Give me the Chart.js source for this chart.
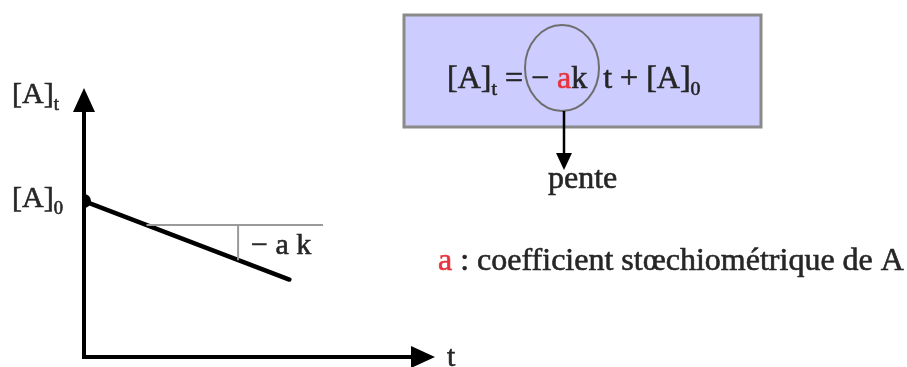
<!DOCTYPE html>
<html>
<head>
<meta charset="utf-8">
<script src="https://cdn.jsdelivr.net/npm/chart.js@4.4.1/dist/chart.umd.min.js"></script>
<style>
    html, body { margin: 0; padding: 0; background: #fff; }
    #wrap { width: 907px; height: 367px; position: relative; }
</style>
</head>
<body>
<div id="wrap"><canvas id="kinetics"></canvas></div>
<script>
// [A] = f(t) for a zero-order reaction, axes run 0..10 in both directions
const lineT = [0, 5.85];
const lineA = [5.8, 2.88];

// slope triangle: horizontal step and vertical drop back to the line
const stepT = [1.78, 6.81];
const stepA = [4.91, 4.91];
const riseT = [4.39, 4.39];
const riseA = [4.91, 3.6];

const SERIF = '"Liberation Serif", "Times New Roman", serif';
const INK = '#262626';
const RED = '#e8323c';

const pts = (xs, ys) => xs.map((x, i) => ({ x: x, y: ys[i] }));

// draws runs like [A]t with a smaller subscript, returns the end x
const rich = (ctx, parts, x, y, size) => {
    parts.forEach(p => {
        const s = p.sub ? size * 0.62 : size;
        const ty = p.sub ? y + size * 0.22 : y;
        ctx.font = s + 'px ' + SERIF;
        ctx.fillStyle = p.color || INK;
        ctx.strokeStyle = p.color || INK;
        ctx.lineWidth = 0.6;
        ctx.fillText(p.text, x, ty);
        ctx.strokeText(p.text, x, ty);
        x += ctx.measureText(p.text).width;
    });
    return x;
};

const arrowHead = (ctx, x, y, dir, len, half) => {
    ctx.beginPath();
    if (dir === 'up') {
        ctx.moveTo(x, y); ctx.lineTo(x - half, y + len); ctx.lineTo(x + half, y + len);
    } else if (dir === 'down') {
        ctx.moveTo(x, y); ctx.lineTo(x - half, y - len); ctx.lineTo(x + half, y - len);
    } else {
        ctx.moveTo(x, y); ctx.lineTo(x - len, y - half); ctx.lineTo(x - len, y + half);
    }
    ctx.closePath();
    ctx.fill();
};

const decor = {
    id: 'decor',
    beforeDatasetsDraw(chart) {
        const { ctx, chartArea: a } = chart;
        ctx.save();
        // axes with arrow tips
        ctx.strokeStyle = '#000';
        ctx.fillStyle = '#000';
        ctx.lineWidth = 4;
        ctx.lineJoin = 'miter';
        ctx.beginPath();
        ctx.moveTo(a.left, a.top + 20);
        ctx.lineTo(a.left, a.bottom);
        ctx.lineTo(a.right - 20, a.bottom);
        ctx.stroke();
        arrowHead(ctx, a.left, a.top, 'up', 24, 11);
        arrowHead(ctx, a.right, a.bottom, 'right', 24, 11);
        ctx.restore();
    },
    afterDatasetsDraw(chart) {
        const { ctx, chartArea: a, scales } = chart;
        const x = scales.x, y = scales.y;
        ctx.save();
        ctx.textBaseline = 'alphabetic';

        rich(ctx, [{ text: '[A]' }, { text: 't', sub: true }], 12, a.top + 15, 30);
        rich(ctx, [{ text: '[A]' }, { text: '0', sub: true }], 12, y.getPixelForValue(lineA[0]) + 6, 30);
        rich(ctx, [{ text: 't' }], a.right + 12, a.bottom + 9, 30);
        rich(ctx, [{ text: '\u2212 a k' }], x.getPixelForValue(riseT[0]) + 13, y.getPixelForValue(riseA[1]) - 6, 30);

        // rate law box
        ctx.fillStyle = '#ccccff';
        ctx.fillRect(404, 15, 357, 112);
        ctx.strokeStyle = '#8a8a8a';
        ctx.lineWidth = 3;
        ctx.strokeRect(404, 15, 357, 112);

        rich(ctx, [
            { text: '[A]' }, { text: 't', sub: true }, { text: ' = \u2212 ' },
            { text: 'a', color: RED }, { text: 'k  t + [A]' }, { text: '0', sub: true }
        ], 447, 88, 32);

        ctx.strokeStyle = '#6e6e6e';
        ctx.lineWidth = 2;
        ctx.beginPath();
        ctx.ellipse(562, 68, 37, 43, 0, 0, Math.PI * 2);
        ctx.stroke();

        // pointer to the slope
        ctx.strokeStyle = '#000';
        ctx.fillStyle = '#000';
        ctx.lineWidth = 2.5;
        ctx.beginPath();
        ctx.moveTo(564, 111);
        ctx.lineTo(564, 158);
        ctx.stroke();
        arrowHead(ctx, 564, 170, 'down', 17, 8);

        rich(ctx, [{ text: 'pente' }], 548, 188, 32);
        rich(ctx, [{ text: 'a', color: RED }, { text: ' : coefficient st\u0153chiom\u00e9trique de A' }], 438, 270, 32);
        ctx.restore();
    }
};

new Chart(document.getElementById('kinetics'), {
    type: 'scatter',
    data: {
        datasets: [
            {
                data: pts(stepT, stepA),
                showLine: true,
                borderColor: '#9a9a9a',
                borderWidth: 2,
                pointRadius: 0
            },
            {
                data: pts(riseT, riseA),
                showLine: true,
                borderColor: '#9a9a9a',
                borderWidth: 2,
                pointRadius: 0
            },
            {
                data: pts(lineT, lineA),
                showLine: true,
                borderColor: '#000',
                borderWidth: 4.5,
                borderCapStyle: 'round',
                pointRadius: [7, 0],
                pointBackgroundColor: '#000',
                pointBorderWidth: 0
            }
        ]
    },
    options: {
        responsive: true,
        maintainAspectRatio: false,
        animation: false,
        events: [],
        layout: {
            padding: { left: 84, top: 88, right: 472, bottom: 10 }
        },
        plugins: {
            legend: { display: false },
            title: { display: false },
            tooltip: { enabled: false }
        },
        scales: {
            x: {
                type: 'linear', min: 0, max: 10,
                display: false
            },
            y: {
                type: 'linear', min: 0, max: 10,
                display: false
            }
        }
    },
    plugins: [decor]
});
</script>
</body>
</html>
